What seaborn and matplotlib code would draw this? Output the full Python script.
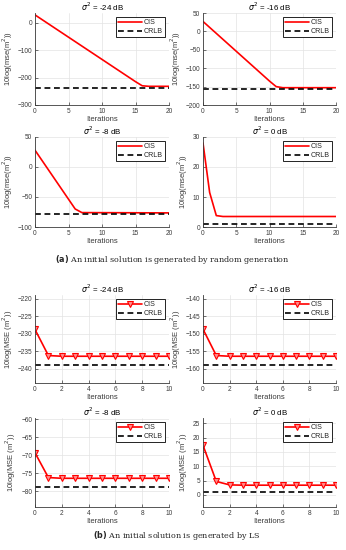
import numpy as np
import pandas as pd
import seaborn as sns
import matplotlib.pyplot as plt

# =========================
# data
# =========================

# (a) random initial solution - breakpoints of the CIS curves
titles = ['$\\sigma^2$ = -24 dB', '$\\sigma^2$ = -16 dB',
          '$\\sigma^2$ = -8 dB', '$\\sigma^2$ = 0 dB']

rand_iter_24 = [0, 15, 16, 17, 20]
rand_cis_24 = [28, -215, -230, -232, -232]
rand_iter_16 = [0, 10, 11, 12, 20]
rand_cis_16 = [27, -135, -150, -153, -153]
rand_iter_8 = [0, 6, 7, 20]
rand_cis_8 = [28, -70, -76, -76.5]
rand_iter_0 = [0, 1, 2, 3, 20]
rand_cis_0 = [28, 11.5, 3.8, 3.5, 3.5]
rand_crlb = [-238, -156, -79, 1]

# (b) LS initial solution - one value per iteration
ls_iter = [0, 1, 2, 3, 4, 5, 6, 7, 8, 9, 10]
ls_cis_24 = [-228.8, -236.2, -236.4, -236.4, -236.4, -236.4, -236.4, -236.4, -236.4, -236.4, -236.4]
ls_cis_16 = [-148.7, -156.2, -156.4, -156.4, -156.4, -156.4, -156.4, -156.4, -156.4, -156.4, -156.4]
ls_cis_8 = [-69.3, -76.2, -76.4, -76.4, -76.4, -76.4, -76.4, -76.4, -76.4, -76.4, -76.4]
ls_cis_0 = [17.3, 4.7, 3.5, 3.4, 3.4, 3.4, 3.4, 3.4, 3.4, 3.4, 3.4]
ls_crlb = [-239, -159, -78.9, 0.9]

rand_ylims = [(-300, 35), (-200, 50), (-100, 50), (0, 30)]
rand_yticks = [[-300, -200, -100, 0], [-200, -150, -100, -50, 0, 50],
               [-100, -50, 0, 50], [0, 10, 20, 30]]
ls_ylims = [(-244, -219), (-164, -139), (-84.4, -59.6), (-4.2, 26.8)]
ls_yticks = [[-240, -235, -230, -225, -220], [-160, -155, -150, -145, -140],
             [-80, -75, -70, -65, -60], [0, 5, 10, 15, 20, 25]]

# =========================
# style
# =========================
sns.set_theme(style="whitegrid")
plt.rcParams['font.family'] = ['Liberation Sans', 'DejaVu Sans']
plt.rcParams['mathtext.fontset'] = 'dejavusans'
tick_fs = 4.7
lab_fs = 5.5
axcol = '#3a3a3a'

W, H = 346, 550
fig = plt.figure(figsize=(W / 100, H / 100), dpi=100)

cols = [(35, 169), (203, 336)]
rows = [(13, 105), (137, 227), (295, 383), (418, 507)]


def new_ax(r, c):
    (x0, x1), (t, b) = cols[c], rows[r]
    return fig.add_axes([x0 / W, 1 - b / H, (x1 - x0) / W, (b - t) / H])


def style_ax(ax, title, xlim, xticks, ylim, yticks, ylabel):
    ax.set_xlim(xlim)
    ax.set_ylim(ylim)
    ax.set_xticks(xticks)
    ax.set_yticks(yticks)
    ax.set_title(title, fontsize=lab_fs + 0.2, pad=1.5, color='black')
    ax.set_xlabel('Iterations', fontsize=lab_fs, labelpad=1, color=axcol)
    ax.set_ylabel(ylabel, fontsize=lab_fs, labelpad=2, color=axcol)
    ax.tick_params(labelsize=tick_fs, colors=axcol, direction='in', length=2,
                   width=0.5, pad=2, left=True, bottom=True)
    ax.grid(True, color='#e3e3e3', lw=0.5)
    for s in ['top', 'right']:
        ax.spines[s].set_visible(False)
    for s in ['left', 'bottom']:
        ax.spines[s].set_color(axcol)
        ax.spines[s].set_linewidth(0.6)
    leg = ax.legend(loc='upper right', fontsize=5.1, frameon=True, fancybox=False,
                    edgecolor='black', framealpha=1, borderpad=0.3,
                    handlelength=3.3, labelspacing=0.25, handletextpad=0.3,
                    borderaxespad=0.6)
    leg.get_frame().set_linewidth(0.6)


# (a) panels
rand_iters = [rand_iter_24, rand_iter_16, rand_iter_8, rand_iter_0]
rand_cis = [rand_cis_24, rand_cis_16, rand_cis_8, rand_cis_0]
for i in range(4):
    ax = new_ax(i // 2, i % 2)
    df = pd.DataFrame({'it': rand_iters[i], 'cis': rand_cis[i]})
    sns.lineplot(data=df, x='it', y='cis', ax=ax, color='red', lw=1.2, label='CIS')
    cr = pd.DataFrame({'it': [0, 20], 'crlb': [rand_crlb[i]] * 2})
    sns.lineplot(data=cr, x='it', y='crlb', ax=ax, color='black', lw=1.2,
                 linestyle='--', dashes=False, label='CRLB')
    ax.lines[-1].set_linestyle((0, (3.5, 2.2)))
    style_ax(ax, titles[i], (0, 20), [0, 5, 10, 15, 20], rand_ylims[i],
             rand_yticks[i], '10log(mse(m$^2$))')

# (b) panels
ls_cis = [ls_cis_24, ls_cis_16, ls_cis_8, ls_cis_0]
for i in range(4):
    ax = new_ax(2 + i // 2, i % 2)
    df = pd.DataFrame({'it': ls_iter, 'cis': ls_cis[i]})
    sns.lineplot(data=df, x='it', y='cis', ax=ax, color='red', lw=1.2, label='CIS',
                 marker='v', markersize=5, markerfacecolor='#ff8c8c',
                 markeredgecolor='red', markeredgewidth=0.8)
    cr = pd.DataFrame({'it': [0, 10], 'crlb': [ls_crlb[i]] * 2})
    sns.lineplot(data=cr, x='it', y='crlb', ax=ax, color='black', lw=1.2,
                 linestyle='--', dashes=False, label='CRLB')
    ax.lines[-1].set_linestyle((0, (3.5, 2.2)))
    style_ax(ax, titles[i], (0, 10), [0, 2, 4, 6, 8, 10], ls_ylims[i],
             ls_yticks[i], '10log(MSE (m$^2$))')

# captions
fig.text(172 / W, 1 - 260 / H,
         r'$\mathbf{(a)}$ An initial solution is generated by random generation',
         ha='center', va='center', fontsize=5.8, family='DejaVu Serif')
fig.text(177 / W, 1 - 536 / H,
         r'$\mathbf{(b)}$ An initial solution is generated by LS',
         ha='center', va='center', fontsize=5.8, family='DejaVu Serif')

plt.savefig('out.png', dpi=100)
plt.close()
